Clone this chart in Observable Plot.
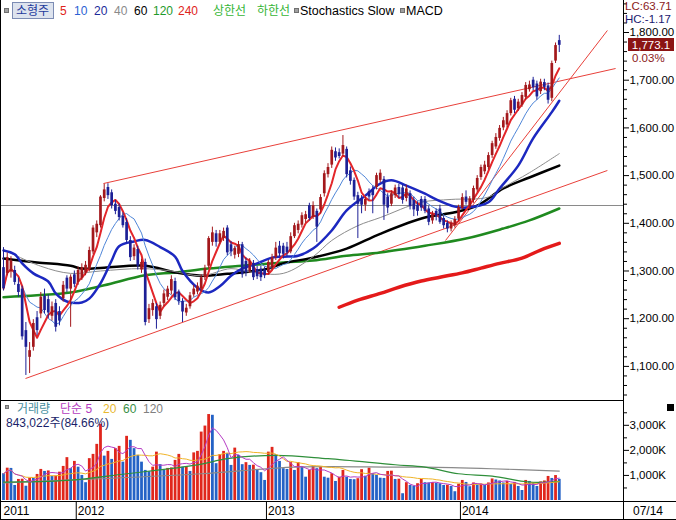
<!DOCTYPE html>
<html><head><meta charset="utf-8">
<script src="https://cdn.jsdelivr.net/npm/d3@7"></script>
<script src="https://cdn.jsdelivr.net/npm/@observablehq/plot@0.6"></script>
<style>
body{margin:0;background:#fff;}
#wrap{position:relative;width:676px;height:520px;overflow:hidden;background:#fff;font-family:"Liberation Sans","Noto Sans CJK KR",sans-serif;}
.t{position:absolute;white-space:nowrap;line-height:12px;font-size:12px;}
.ln{position:absolute;background:#000;}
</style></head><body><div id="wrap"></div>
<script>
// ---------------- DATA (weekly, index 0 = first week shown) ----------------
const opens = [1307,1295,1298,1301,1272,1262,1175,1119,1140,1202,1210,1247,1240,1205,1232,1215,1242,1285,1262,1292,1276,1285,1296,1302,1340,1380,1395,1452,1475,1464,1440,1433,1415,1402,1364,1330,1345,1302,1318,
1198,1217,1225,1205,1232,1245,1258,1278,1256,1236,1212,1225,1250,1256,1262,1286,1310,1360,1378,1360,1368,1390,1355,1333,1335,1355,1320,1300,1316,1303,1304,1302,1297,1308,1328,1352,1352,
1350,1340,1372,1385,1396,1408,1437,1412,1425,1428,1462,1502,1522,1550,1548,1545,1555,1510,1490,1458,1450,1438,1466,1470,1475,1490,1492,1455,1440,1458,1475,1474,1452,1462,1448,1438,1450,
1450,1430,1405,1425,1430,1410,1400,1388,1395,1409,1431,1455,1434,1448,1470,1496,1508,1517,1542,1560,1578,1600,1606,1630,1660,1640,1648,1664,1680,1700,1692,1676,1695,1688,1662,1740,1783];
const highs = [1349,1338,1330,1310,1285,1268,1192,1150,1198,1215,1255,1262,1250,1235,1240,1225,1278,1290,1292,1300,1308,1315,1320,1350,1395,1405,1458,1482,1483,1470,1448,1440,1422,1410,1372,1355,1352,1325,1325,
1230,1240,1232,1235,1260,1268,1290,1285,1260,1242,1230,1255,1270,1275,1292,1312,1372,1392,1385,1385,1390,1395,1362,1352,1362,1360,1328,1326,1322,1310,1310,1308,1322,1335,1360,1362,1358,
1360,1380,1400,1405,1422,1425,1442,1445,1430,1460,1510,1525,1560,1558,1556,1584,1560,1518,1495,1465,1458,1455,1472,1478,1505,1512,1498,1462,1468,1480,1482,1480,1480,1468,1455,1445,1456,
1456,1436,1425,1430,1438,1415,1405,1405,1414,1438,1462,1468,1456,1478,1500,1522,1530,1548,1572,1588,1605,1622,1636,1662,1666,1660,1674,1695,1698,1706,1698,1702,1702,1694,1740,1778,1794];
const lows = [1258,1290,1285,1270,1245,1155,1081,1085,1132,1165,1200,1210,1200,1195,1172,1185,1235,1255,1182,1265,1270,1280,1290,1298,1335,1370,1390,1445,1450,1430,1418,1405,1390,1358,1320,1322,1302,1295,1185,
1190,1205,1178,1198,1225,1238,1250,1238,1228,1192,1205,1220,1245,1250,1255,1280,1305,1352,1350,1355,1362,1332,1330,1325,1328,1285,1288,1295,1280,1282,1278,1284,1292,1302,1322,1330,1325,
1330,1336,1368,1378,1390,1400,1405,1408,1360,1420,1455,1495,1515,1530,1535,1540,1495,1480,1448,1368,1420,1425,1448,1420,1470,1485,1406,1420,1435,1452,1452,1440,1445,1428,1414,1415,1425,
1420,1395,1398,1405,1398,1388,1380,1382,1390,1404,1428,1438,1428,1442,1465,1490,1502,1512,1536,1555,1572,1594,1600,1625,1630,1635,1643,1658,1675,1678,1658,1670,1678,1650,1655,1735,1758];
const closes = [1263,1328,1321,1276,1255,1162,1140,1133,1190,1175,1245,1217,1212,1225,1182,1195,1270,1262,1287,1272,1301,1307,1312,1343,1390,1398,1455,1470,1458,1437,1425,1412,1395,1364,1328,1348,1310,1318,1192,
1221,1232,1198,1228,1252,1262,1282,1244,1236,1214,1222,1248,1262,1268,1286,1305,1368,1380,1360,1378,1383,1338,1340,1347,1355,1292,1296,1320,1286,1288,1286,1290,1318,1328,1348,1336,1335,
1338,1372,1395,1398,1416,1418,1410,1437,1392,1454,1504,1517,1553,1537,1540,1563,1502,1488,1455,1440,1438,1450,1455,1458,1500,1505,1438,1432,1462,1474,1460,1448,1472,1435,1428,1425,1432,
1425,1402,1418,1415,1402,1395,1388,1400,1408,1433,1454,1444,1451,1473,1494,1517,1522,1542,1567,1580,1599,1615,1630,1657,1637,1654,1668,1689,1690,1684,1665,1696,1685,1658,1735,1772.6,1773.1];
// weekly volume, thousands of shares
const volumes = [1070,1290,1280,600,840,850,570,890,880,1040,1240,1160,1180,960,975,1130,1360,1710,1270,1560,1330,1000,710,1670,1840,2240,3040,1770,1960,1640,2070,2160,1530,2560,2400,2070,1800,1530,1200,
1150,1330,1930,1430,1200,1280,1300,1600,1840,1330,1340,1160,1900,1960,2730,2970,3430,3400,1470,1830,1960,1870,1400,2090,1800,1430,1510,1400,1410,1200,1110,800,1930,2120,1830,1560,1270,
1240,1510,1200,1510,1330,930,1200,1360,1270,1330,930,890,1070,760,930,1200,930,840,830,870,1230,970,1290,1070,1000,890,880,1160,1170,840,850,270,710,600,570,670,840,
710,700,710,690,670,600,610,560,350,650,800,720,550,700,620,660,600,700,860,820,780,700,760,640,720,560,400,800,760,680,560,740,780,960,880,995.77,843.022];

// moving averages: [week index, value]
const ma20Pts = [[0,1343],[3,1335],[5,1316],[8,1295],[12,1278],[14,1253],[17,1236],[21,1234],[23,1242],[26,1274],[29,1322],[31,1352],[35,1362],[38,1365],[42,1350],[46,1330],[48,1300],[52,1265],[55,1255],[58,1268],[61,1290],[64,1305],[68,1316],[72,1328],[75,1330],[79,1332],[83,1347],[88,1385],[92,1427],[97,1458],[101,1483],[104,1490],[108,1479],[113,1462],[116,1450],[121,1435],[124,1433],[130,1444],[133,1473],[138,1521],[142,1578],[147,1633],[149,1657]];
const ma40Pts = [[0,1345],[10,1310],[18,1295],[26,1300],[37,1305],[45,1300],[53,1290],[61,1305],[66,1298],[75,1295],[83,1330],[88,1364],[95,1395],[101,1412],[112,1444],[120,1450],[130,1455],[134,1475],[141,1506],[149,1546]];
const ma60Pts = [[0,1326],[9,1318],[18,1311],[21,1305],[27,1307],[38,1311],[46,1297],[53,1290],[60,1294],[64,1297],[71,1305],[75,1316],[83,1328],[92,1347],[101,1378],[113,1412],[121,1423],[127,1437],[134,1473],[141,1496],[149,1521]];
const ma120Pts = [[0,1245],[9,1249],[18,1255],[27,1270],[38,1291],[46,1297],[55,1305],[64,1311],[75,1318],[83,1322],[92,1332],[101,1339],[113,1353],[124,1368],[134,1389],[141,1406],[149,1431]];
const ma240Pts = [[90,1224],[95,1239],[101,1253],[106,1266],[112,1279],[117,1287],[123,1296],[128,1306],[133,1316],[139,1327],[144,1344],[149,1358]];
const vol60Pts = [[0,733],[17,800],[33,1067],[52,1420],[60,1667],[73,1800],[87,1667],[105,1427],[113,1333],[122,1067],[131,973],[141,733],[149,760]];
const vol120Pts = [[0,707],[26,867],[53,1067],[78,1333],[105,1333],[113,1333],[131,1267],[149,1173]];

// drawn trend lines (start index, start price, end index, end price)
const trendStartIdx = [26.8, 5.9, 118.5];
const trendStartVal = [1483.4, 1074.6, 1363.9];
const trendEndIdx = [164.1, 161.9, 161.9];
const trendEndVal = [1724.5, 1510.7, 1804.2];
const refLevel = 1437.3;

const priceTicks = [1100,1200,1300,1400,1500,1600,1700,1800];
const volTicks = [1000,2000,3000];
const yearLabels = ["2011","2012","2013","2014"];
const yearStart = [0,20,71,123];
const lastLabel = "07/14";

// ---------------- BUILD ----------------
const UP = "#a3181c", DOWN = "#1d2096";
const candles = closes.map((c,i)=>({i,o:opens[i],h:highs[i],l:lows[i],c,v:volumes[i],
  vup: i>0 && volumes[i]>=volumes[i-1]}));
const trends = trendStartIdx.map((d,k)=>({i1:d,p1:trendStartVal[k],i2:trendEndIdx[k],p2:trendEndVal[k]}));
const candleColor = d => d.c >= d.o ? UP : DOWN;
const FONT = '"Liberation Sans","Noto Sans CJK KR",sans-serif';
const XD = [-3/3.73, 620/3.73];

const wrap = document.getElementById("wrap");

const main = Plot.plot({
  width: 676, height: 400, marginLeft: 0, marginRight: 53, marginTop: 0, marginBottom: 0,
  x: {domain: XD, range: [0,623], axis: null},
  y: {domain: [1028.5, 1867.09], range: [400,0]},
  color: {type: "identity"},
  style: {fontFamily: FONT, background: "transparent", overflow: "visible"},
  marks: [
    Plot.ruleY([refLevel], {stroke: "#8a8a8a", strokeWidth: 1}),
    Plot.link(trends, {x1:"i1", y1:"p1", x2:"i2", y2:"p2", stroke:"#e8403a", strokeWidth: 1, clip: true}),
    Plot.line(ma240Pts, {x: d=>d[0], y: d=>d[1], stroke:"#e41a1a", strokeWidth: 3.5, curve:"catmull-rom"}),
    Plot.line(ma120Pts, {x: d=>d[0], y: d=>d[1], stroke:"#1f8a1f", strokeWidth: 2.5, curve:"catmull-rom"}),
    Plot.line(ma60Pts, {x: d=>d[0], y: d=>d[1], stroke:"#000", strokeWidth: 2.5, curve:"catmull-rom"}),
    Plot.line(ma40Pts, {x: d=>d[0], y: d=>d[1], stroke:"#8c8c8c", strokeWidth: 1, curve:"catmull-rom"}),
    Plot.line(ma20Pts, {x: d=>d[0], y: d=>d[1], stroke:"#1c28c0", strokeWidth: 2.5, curve:"catmull-rom"}),
    Plot.lineY(candles, Plot.windowY({k: 10, anchor: "end"}, {x:"i", y:"c", stroke:"#4f86d8", strokeWidth: 1})),
    Plot.lineY(candles, Plot.windowY({k: 5, anchor: "end"}, {x:"i", y:"c", stroke:"#e3262a", strokeWidth: 2})),
    Plot.ruleX(candles, {x:"i", y1:"l", y2:"h", stroke: candleColor, strokeWidth: 1}),
    Plot.ruleX(candles, {x:"i", y1:"o", y2:"c", stroke: candleColor, strokeWidth: 2.7}),
    Plot.axisY(priceTicks, {anchor:"right", tickSize: 5, tickPadding: 1, tickFormat: d3.format(",.2f"), fontSize: 11.5, label: null, fill:"#000"}),
    Plot.axisY(d3.range(1040,1861,20).filter(v=>v%100), {anchor:"right", tickSize: 3, tickFormat: () => "", label: null})
  ]
});
main.style.position = "absolute"; main.style.left = "0px"; main.style.top = "0px";
wrap.appendChild(main);

const vol = Plot.plot({
  width: 676, height: 100, marginLeft: 0, marginRight: 53, marginTop: 0, marginBottom: 0,
  x: {domain: XD, range: [0,623], axis: null},
  y: {domain: [0, 3950], range: [99,0]},
  color: {type: "identity"},
  style: {fontFamily: FONT, background: "transparent", overflow: "visible"},
  marks: [
    Plot.ruleX(candles, {x:"i", y1: 0, y2:"v", stroke: d => d.vup ? "#e0261c" : "#2462c6", strokeWidth: 2.8}),
    Plot.line(vol120Pts, {x: d=>d[0], y: d=>d[1], stroke:"#8a8a8a", strokeWidth: 1.2, curve:"catmull-rom"}),
    Plot.line(vol60Pts, {x: d=>d[0], y: d=>d[1], stroke:"#2f8f3a", strokeWidth: 1.2, curve:"catmull-rom"}),
    Plot.lineY(candles, Plot.windowY({k: 20, anchor: "end"}, {x:"i", y:"v", stroke:"#f0b428", strokeWidth: 1})),
    Plot.lineY(candles, Plot.windowY({k: 5, anchor: "end"}, {x:"i", y:"v", stroke:"#b63cc4", strokeWidth: 1})),
    Plot.axisY(volTicks, {anchor:"right", tickSize: 5, tickPadding: 1, tickFormat: d => d3.format(",")(d) + "K", fontSize: 11.5, label: null, fill:"#000"}),
    Plot.axisY(d3.range(500, 3901, 500).filter(v=>v%1000), {anchor:"right", tickSize: 3, tickFormat: () => "", label: null})
  ]
});
vol.style.position = "absolute"; vol.style.left = "0px"; vol.style.top = "401px";
wrap.appendChild(vol);

const axisStrip = Plot.plot({
  width: 676, height: 17, marginLeft: 0, marginRight: 0, marginTop: 0, marginBottom: 0,
  x: {domain: [XD[0], 673/3.73], range: [0,676], axis: null},
  y: {domain: [0,1], range: [17,0], axis: null},
  style: {fontFamily: FONT, background: "transparent", overflow: "visible"},
  marks: [
    Plot.ruleX(yearStart.slice(1).map(d => d - 0.5), {y1: 0, y2: 1, stroke: "#000"}),
    Plot.text(yearLabels, {x: (d,k) => k === 0 ? -0.4 : yearStart[k] - 0.5, y: 0.5, text: d => d, textAnchor: "start", dx: 1.5, fontSize: 12, fill: "#000"})
  ]
});
axisStrip.style.position = "absolute"; axisStrip.style.left = "0px"; axisStrip.style.top = "502px";
wrap.appendChild(axisStrip);

// ---------------- frame lines ----------------
function line(l,t,w,h){const d=document.createElement("div");d.className="ln";Object.assign(d.style,{left:l+"px",top:t+"px",width:w+"px",height:h+"px"});wrap.appendChild(d);}
line(0,0,1,520); line(623,0,1,520); line(0,400,623,1); line(0,501,676,1); line(0,519,676,1);

function text(x,y,s,color,size,extra){const d=document.createElement("div");d.className="t";d.textContent=s;
  Object.assign(d.style,{left:x+"px",top:y+"px",color:color||"#000",fontSize:(size||12)+"px"},extra||{});wrap.appendChild(d);return d;}
function box(x,y,w,h,bg,border){const d=document.createElement("div");Object.assign(d.style,{position:"absolute",left:x+"px",top:y+"px",width:w+"px",height:h+"px",background:bg,border:border||"none",boxSizing:"border-box"});wrap.appendChild(d);return d;}

// top legend
box(4,8,5,5,"#a0a0a0","1px solid #707070");
box(12,2,42,17,"#dde3ee","1px solid #7c8cb4");
text(16,5,"소형주","#1e3a9c",12);
text(60,5,"5","#e0241b",12);
text(74,5,"10","#2c5fd4",12);
text(94,5,"20","#1b2a9a",12);
text(114,5,"40","#8a8a8a",12);
text(134,5,"60","#000",12);
text(153,5,"120","#1f9a2a",12);
text(178,5,"240","#e0241b",12);
text(213,5,"상한선","#35b535",12);
text(257,5,"하한선","#35b535",12);
box(294,8,5,5,"#a0a0a0","1px solid #707070");
text(300,5,"Stochastics Slow","#000",12.5);
box(400,8,5,5,"#a0a0a0","1px solid #707070");
text(406,5,"MACD","#000",12.5);

// right side info
text(625,1,"LC:63.71","#8b1a1a",11.5,{lineHeight:"11px"});
text(625,13.5,"HC:-1.17","#1a1a70",11.5,{lineHeight:"11px"});
const yLast = main.scale("y").apply(closes[closes.length-1]);
box(628, yLast-6.5, 46, 13, "#8b1414");
text(628, yLast-6, d3.format(",.1f")(closes[closes.length-1]), "#fff", 11.5, {width:"46px",textAlign:"center"});
const pct = (closes[closes.length-1]/closes[closes.length-2]-1)*100;
text(632, yLast+7, pct.toFixed(2)+"%", "#8b1a1a", 11.5);

// volume legend
box(5,405,4,4,"#a0a0a0","1px solid #707070");
text(17,403,"거래량","#4a8fa0",12);
text(60,403,"단순 5","#b43cc0",12);
text(103,403,"20","#e8b830",12);
text(123,403,"60","#3a8f46",12);
text(143,403,"120","#808080",12);
const lastVol = volumes[volumes.length-1], prevVol = volumes[volumes.length-2];
text(6,417, d3.format(",")(Math.round(lastVol*1000)) + "주(" + (lastVol/prevVol*100).toFixed(2) + "%)", "#1a1f6a", 12);
box(667,404,7,7,"#000");

// last date label in axis strip
text(633,505,lastLabel,"#000",12);
</script></body></html>
